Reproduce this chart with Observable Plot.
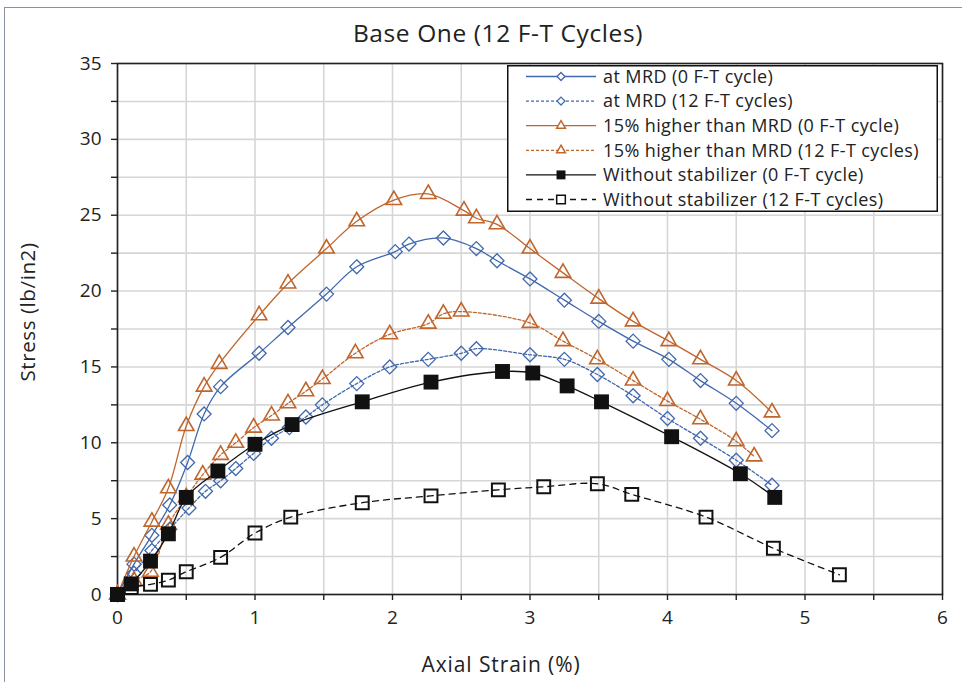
<!DOCTYPE html>
<html>
<head>
<meta charset="utf-8">
<script src="https://cdn.jsdelivr.net/npm/d3@7"></script>
<script src="https://cdn.jsdelivr.net/npm/@observablehq/plot@0.6"></script>
<style>
  html, body { margin: 0; padding: 0; background: #fff; }
  #wrap { position: relative; width: 962px; height: 682px; overflow: hidden; font-family: "Open Sans", sans-serif; color: #222; }
  #border { position: absolute; left: 4px; top: 7px; width: 1000px; height: 720px; border: 1.5px solid #8891a0; box-sizing: border-box; }
  #title { position: absolute; left: 498px; top: 32px; transform: translate(-50%, -50%); font-size: 24.5px; letter-spacing: 0.6px; white-space: nowrap; }
  #ytitle { position: absolute; left: 27px; top: 312px; transform: translate(-50%, -50%) rotate(-90deg); font-size: 20.5px; letter-spacing: 0.6px; white-space: nowrap; }
  #xtitle { position: absolute; left: 501px; top: 664px; transform: translate(-50%, -50%); font-size: 21px; letter-spacing: 0.9px; white-space: nowrap; }
  #legend { position: absolute; left: 507px; top: 65px; }
  svg { overflow: visible; }
</style>
</head>
<body>
<div id="wrap">
  <div id="border"></div>
  <div id="chart"></div>
  <div id="title">Base One (12 F-T Cycles)</div>
  <div id="ytitle">Stress (lb/in2)</div>
  <div id="xtitle">Axial Strain (%)</div>
  <div id="legend"></div>
</div>
<script>
// Stress–strain readings, [axial strain %, stress lb/in2]
const mrd0 = [[0,0],[0.12,2.0],[0.25,3.9],[0.38,5.9],[0.51,8.7],[0.63,11.9],[0.75,13.7],[1.03,15.9],[1.24,17.6],[1.52,19.8],[1.74,21.6],[2.02,22.6],[2.12,23.1],[2.37,23.5],[2.61,22.8],[2.76,22.0],[3.0,20.8],[3.25,19.4],[3.5,18.0],[3.75,16.7],[4.01,15.5],[4.24,14.1],[4.5,12.6],[4.76,10.8]];
const mrd12 = [[0,0],[0.12,1.4],[0.25,2.9],[0.38,4.3],[0.52,5.7],[0.64,6.8],[0.75,7.5],[0.86,8.3],[0.99,9.3],[1.12,10.3],[1.25,11.0],[1.37,11.7],[1.49,12.5],[1.74,13.9],[1.98,15.0],[2.26,15.5],[2.5,15.9],[2.61,16.2],[3.0,15.8],[3.25,15.5],[3.49,14.5],[3.75,13.1],[4.0,11.6],[4.24,10.3],[4.5,8.85],[4.76,7.2]];
const high0 = [[0,0],[0.12,2.5],[0.25,4.8],[0.37,7.0],[0.5,11.1],[0.63,13.7],[0.74,15.2],[1.03,18.4],[1.24,20.5],[1.52,22.8],[1.74,24.6],[2.01,26.0],[2.26,26.4],[2.52,25.3],[2.61,24.8],[2.76,24.4],[3.0,22.8],[3.24,21.2],[3.5,19.5],[3.75,18.0],[4.01,16.7],[4.24,15.5],[4.5,14.1],[4.76,12.0]];
const high12 = [[0,0],[0.12,0.9],[0.24,1.5],[0.37,4.6],[0.5,6.4],[0.62,7.9],[0.75,9.2],[0.86,10.0],[0.99,11.0],[1.12,11.8],[1.24,12.6],[1.37,13.4],[1.49,14.2],[1.73,15.9],[1.98,17.15],[2.26,17.85],[2.37,18.5],[2.5,18.65],[3.0,17.9],[3.24,16.7],[3.49,15.5],[3.75,14.1],[4.0,12.75],[4.24,11.55],[4.5,10.1],[4.63,9.1]];
const plain0 = [[0,0],[0.1,0.7],[0.24,2.2],[0.37,4.0],[0.5,6.4],[0.73,8.14],[1.0,9.9],[1.27,11.2],[1.78,12.7],[2.28,14.0],[2.8,14.7],[3.02,14.6],[3.27,13.75],[3.52,12.7],[4.03,10.4],[4.53,7.96],[4.78,6.4]];
const plain12 = [[0,0],[0.1,0.45],[0.24,0.67],[0.37,0.95],[0.5,1.5],[0.75,2.45],[1.0,4.05],[1.26,5.1],[1.78,6.05],[2.28,6.5],[2.77,6.9],[3.1,7.1],[3.49,7.3],[3.74,6.6],[4.28,5.1],[4.77,3.05],[5.25,1.3]];

const seriesNames = [
  "at MRD (0 F-T cycle)",
  "at MRD (12 F-T cycles)",
  "15% higher than MRD (0 F-T cycle)",
  "15% higher than MRD (12 F-T cycles)",
  "Without stabilizer (0 F-T cycle)",
  "Without stabilizer (12 F-T cycles)"
];

// Axis ticks (minor ticks carry no label)
const xTicks = [0,0.5,1,1.5,2,2.5,3,3.5,4,4.5,5,5.5,6];
const xTickLabels = [0,1,2,3,4,5,6];
const yTicks = [0,2.5,5,7.5,10,12.5,15,17.5,20,22.5,25,27.5,30,32.5,35];
const yTickLabels = [0,5,10,15,20,25,30,35];

const BLUE = "#4068ae", ORANGE = "#c0652c", BLACK = "#111";

const styles = [
  {data: mrd0,   color: BLUE,   dash: null,  symbol: "diamond2",  r: 6.3, fill: "none", sw: 1.3},
  {data: mrd12,  color: BLUE,   dash: "3,2", symbol: "diamond2",  r: 6.3, fill: "none", sw: 1.3},
  {data: high0,  color: ORANGE, dash: null,  symbol: "triangle2", r: 7.4, fill: "none", sw: 1.6},
  {data: high12, color: ORANGE, dash: "3,2", symbol: "triangle2", r: 7.4, fill: "none", sw: 1.6},
  {data: plain0, color: BLACK,  dash: null,  symbol: "square",    r: 8.4, fill: BLACK,  sw: 0},
  {data: plain12,color: BLACK,  dash: "6,5", symbol: "square2",   r: 8.2, fill: "none", sw: 2}
];

const X = d => d[0], Y = d => d[1];
const seriesMarks = styles.flatMap(s => [
  Plot.line(s.data, {x: X, y: Y, stroke: s.color, strokeWidth: 1.3, strokeDasharray: s.dash, curve: "catmull-rom"}),
  Plot.dot(s.data, {x: X, y: Y, symbol: s.symbol, r: s.r, fill: s.fill,
    stroke: s.sw ? s.color : "none", strokeWidth: s.sw})
]);

const chart = Plot.plot({
  width: 962, height: 682,
  marginLeft: 117, marginRight: 20, marginTop: 63, marginBottom: 88,
  x: {domain: [0, 6]},
  y: {domain: [0, 35]},
  style: {fontFamily: "'Open Sans', sans-serif", fontSize: "19px", color: "#222", background: "transparent"},
  marks: [
    Plot.gridX(xTicks, {stroke: "#d6d6d6", strokeOpacity: 1, strokeWidth: 1.6}),
    Plot.gridY(yTicks, {stroke: "#d6d6d6", strokeOpacity: 1, strokeWidth: 1.6}),
    Plot.axisX(xTicks, {tickSize: 6, tickPadding: 10, label: null, stroke: "#222", strokeWidth: 1.4,
      tickFormat: d => xTickLabels.includes(d) ? String(d) : ""}),
    Plot.axisY(yTicks, {tickSize: 6, tickPadding: 10, label: null, stroke: "#222", strokeWidth: 1.4,
      tickFormat: d => yTickLabels.includes(d) ? String(d) : ""}),
    Plot.frame({stroke: "#222", strokeWidth: 1.6}),
    ...seriesMarks
  ]
});
document.getElementById("chart").appendChild(chart);

// Legend box
const LW = 431, LH = 147, rowH = 24.6;
const leg = d3.select("#legend").append("svg").attr("width", LW).attr("height", LH);
leg.append("rect").attr("x", 0.75).attr("y", 0.75).attr("width", LW - 1.5).attr("height", LH - 1.5)
  .attr("fill", "#fff").attr("stroke", "#111").attr("stroke-width", 1.5);
const symMap = {diamond2: d3.symbolDiamond2, triangle2: d3.symbolTriangle2, square: d3.symbolSquare, square2: d3.symbolSquare2};
const legSize = {diamond2: 40, triangle2: 55, square: 80, square2: 95};
styles.forEach((s, i) => {
  const cy = 11.5 + i * rowH;
  const g = leg.append("g");
  g.append("line").attr("x1", 19).attr("x2", 89).attr("y1", cy).attr("y2", cy)
    .attr("stroke", s.color).attr("stroke-width", 1.3).attr("stroke-dasharray", s.dash);
  g.append("path").attr("transform", `translate(54,${cy})`)
    .attr("d", d3.symbol(symMap[s.symbol], legSize[s.symbol])())
    .attr("fill", s.fill === "none" ? "#fff" : s.fill)
    .attr("stroke", s.sw ? s.color : "none").attr("stroke-width", s.sw ? Math.min(s.sw, 1.5) : 0);
  g.append("text").attr("x", 96).attr("y", cy).attr("dy", "0.35em")
    .attr("font-family", "'Open Sans', sans-serif").attr("font-size", 18).attr("letter-spacing", 0.4).attr("fill", "#222")
    .text(seriesNames[i]);
});
</script>
</body>
</html>
